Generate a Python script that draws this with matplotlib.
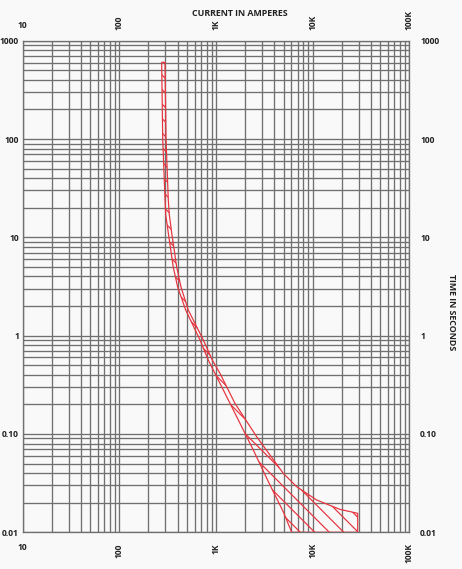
import numpy as np
import matplotlib
matplotlib.use("Agg")
import matplotlib.pyplot as plt

# time-current band (min melt on the left, total clearing on the right)
melt_amps = [274, 281, 297, 302, 321, 361, 401, 486, 683, 832, 1099, 1191, 1770, 2432, 3477, 4966, 6070]
melt_secs = [603, 100, 24, 16.9, 11.1, 4.99, 3.13, 1.82, 0.904, 0.565, 0.327, 0.28, 0.1285, 0.0687, 0.0328, 0.0162, 0.01]

clear_amps = [297, 304, 321, 329, 348, 392, 434, 517, 739, 916, 1099, 1570, 2636, 4966, 6834, 11010, 19190, 29250]
clear_secs = [603, 100, 24, 16.9, 11.1, 4.99, 3.13, 1.82, 0.904, 0.565, 0.414, 0.205, 0.0938, 0.0398, 0.0291, 0.0213, 0.0171, 0.0156]

x_ticks = [10, 100, 1000, 10000, 100000]
x_labels = ["10", "100", "1K", "10K", "100K"]
y_ticks = [0.01, 0.1, 1, 10, 100, 1000]
y_labels = ["0.01", "0.10", "1", "10", "100", "1000"]

red = "#e8333d"
grid_col = "#707070"
txt_col = "#222222"
bg = "#f9f9f9"

plt.rcParams["font.family"] = ["Open Sans", "DejaVu Sans"]

dpi = 87
fig = plt.figure(figsize=(462 / dpi, 569 / dpi), dpi=dpi, facecolor=bg)
ax = fig.add_axes([22.7 / 462, 1 - 532.3 / 569, (409.3 - 22.7) / 462, (532.3 - 40.7) / 569])
ax.set_facecolor(bg)

ax.set_xscale("log")
ax.set_yscale("log")
ax.set_xlim(10, 100000)
ax.set_ylim(0.01, 1000)

ax.set_xticks(x_ticks)
ax.set_xticklabels(x_labels)
ax.set_yticks(y_ticks)
ax.set_yticklabels(y_labels)
ax.xaxis.set_minor_locator(matplotlib.ticker.LogLocator(base=10, subs=np.arange(2, 10)))
ax.yaxis.set_minor_locator(matplotlib.ticker.LogLocator(base=10, subs=np.arange(2, 10)))
ax.xaxis.set_minor_formatter(matplotlib.ticker.NullFormatter())
ax.yaxis.set_minor_formatter(matplotlib.ticker.NullFormatter())

ax.grid(True, which="both", color=grid_col, linewidth=1.1)
ax.set_axisbelow(True)
for s in ax.spines.values():
    s.set_color(grid_col)
    s.set_linewidth(1.1)

ax.tick_params(axis="both", which="both", length=0, colors=txt_col, labelsize=7)
ax.tick_params(axis="x", labeltop=True, labelbottom=True, pad=9)
ax.tick_params(axis="y", pad=3)
for lbl in ax.get_xticklabels() + ax.get_yticklabels():
    lbl.set_fontweight("bold")
for i, tick in enumerate(ax.xaxis.get_major_ticks()):
    if i > 0:
        tick.label1.set_rotation(90)
        tick.label2.set_rotation(90)
    tick.label2.set_fontweight("bold")

ax_r = ax.twinx()
ax_r.set_yscale("log")
ax_r.set_ylim(0.01, 1000)
ax_r.set_yticks(y_ticks)
ax_r.set_yticklabels(y_labels, fontweight="bold")
ax_r.yaxis.set_minor_formatter(matplotlib.ticker.NullFormatter())
ax_r.tick_params(axis="y", which="both", length=0, pad=9, colors=txt_col, labelsize=7)
for s in ax_r.spines.values():
    s.set_visible(False)

band_x = melt_amps + [clear_amps[-1]] + clear_amps[::-1]
band_y = melt_secs + [0.01] + clear_secs[::-1]
ax.fill(band_x, band_y, facecolor="none", edgecolor=red, hatch="\\\\", linewidth=1.0, zorder=3)

fig.text(240 / 462, 1 - 14 / 569, "CURRENT IN AMPERES", ha="center", va="center",
         fontsize=7.4, fontweight="bold", color=txt_col)
fig.text(451 / 462, 1 - 312 / 569, "TIME IN SECONDS", ha="center", va="center",
         rotation=270, fontsize=7.4, fontweight="bold", color=txt_col)

fig.savefig("out.png", dpi=dpi, facecolor=bg)
plt.close(fig)
